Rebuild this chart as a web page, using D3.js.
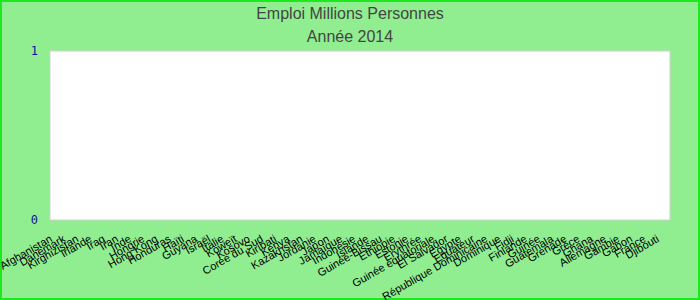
<!DOCTYPE html>
<html>
<head>
<meta charset="utf-8">
<script src="https://cdn.jsdelivr.net/npm/d3@7"></script>
<style>
  html, body { margin: 0; padding: 0; background: #fff; }
  svg { display: block; }
</style>
</head>
<body>
<div id="chart"></div>
<script>
// titres
const title = 'Emploi Millions Personnes';
const subtitle = 'Année 2014';

// pays (ordre du graphique)
const countries = [
  'Afghanistan', 'Danemark', 'Kirghizistan', 'Irlande', 'Iraq', 'Iran', 'Inde', 'Hongrie',
  'Hong Kong', 'Honduras', 'Haïti', 'Guyana', 'Israël', 'Italie', 'Koweït', 'Kosovo',
  'Corée du Sud', 'Kiribati', 'Kenya', 'Kazakhstan', 'Jordanie', 'Japon', 'Jamaïque',
  'Indonésie', 'Islande', 'Guinée-Bissau', 'Ethiopie', 'Estonie', 'Erythrée',
  'Guinée équatoriale', 'El Salvador', 'Egypte', 'Equateur', 'République Dominicaine',
  'Dominique', 'Fidji', 'Finlande', 'Guinée', 'Guatemala', 'Grenade', 'Grèce', 'Ghana',
  'Allemagne', 'Gambie', 'Gabon', 'France', 'Djibouti'
];

// valeurs (aucune donnée affichée : tout à 0)
const values = [
  0, 0, 0, 0, 0, 0, 0, 0, 0, 0, 0, 0, 0, 0, 0, 0,
  0, 0, 0, 0, 0, 0, 0, 0, 0, 0, 0, 0, 0, 0, 0, 0,
  0, 0, 0, 0, 0, 0, 0, 0, 0, 0, 0, 0, 0, 0, 0
];

// graduations de l'axe y
const yTicks = [0, 1];

const width = 700;
const height = 300;
const margin = { top: 51, right: 30, bottom: 80, left: 50 }; // zone blanche 50..670 x 51..220

const data = countries.map((name, i) => ({ name: name, value: values[i] }));

const svg = d3
  .select('#chart')
  .append('svg')
  .attr('width', width)
  .attr('height', height)
  .attr('viewBox', '0 0 ' + width + ' ' + height);

// fond vert + bordure
svg
  .append('rect')
  .attr('x', 1)
  .attr('y', 1)
  .attr('width', width - 2)
  .attr('height', height - 2)
  .attr('fill', '#90ee90')
  .attr('stroke', '#1ee81e')
  .attr('stroke-width', 2);

const x = d3
  .scaleBand()
  .domain(countries)
  .range([margin.left, width - margin.right]);

const y = d3
  .scaleLinear()
  .domain([0, 1])
  .range([height - margin.bottom, margin.top]);

// zone du graphique
svg
  .append('rect')
  .attr('x', margin.left)
  .attr('y', margin.top)
  .attr('width', width - margin.left - margin.right)
  .attr('height', height - margin.top - margin.bottom)
  .attr('fill', '#fff')
  .attr('stroke', '#d0d0d0')
  .attr('stroke-width', 1);

// titres
svg
  .append('text')
  .attr('x', width / 2)
  .attr('y', 19)
  .attr('text-anchor', 'middle')
  .attr('font-family', 'Liberation Sans, Arial, sans-serif')
  .attr('font-size', '16px')
  .attr('fill', '#444')
  .text(title);

svg
  .append('text')
  .attr('x', width / 2)
  .attr('y', 42)
  .attr('text-anchor', 'middle')
  .attr('font-family', 'Liberation Sans, Arial, sans-serif')
  .attr('font-size', '16px')
  .attr('fill', '#444')
  .text(subtitle);

// axe y
const yAxis = (g) =>
  g
    .attr('transform', `translate(${margin.left - 9}, 0)`)
    .call(d3.axisLeft(y).tickValues(yTicks).tickFormat(d3.format('d')).tickSize(0))
    .call((g) => g.select('.domain').remove())
    .call((g) =>
      g
        .selectAll('text')
        .attr('fill', '#1010a0')
        .attr('font-family', 'DejaVu Sans Mono, monospace')
        .attr('font-size', '12px')
    );

svg.append('g').call(yAxis);

// axe x : libellés inclinés
const xAxis = (g) =>
  g
    .attr('transform', `translate(0, ${height - margin.bottom})`)
    .call(d3.axisBottom(x).tickSize(0).tickSizeOuter(0))
    .call((g) => g.select('.domain').remove())
    .call((g) =>
      g
        .selectAll('.tick')
        .attr('transform', (d) => `translate(${x(d) + 3}, 0)`)
    )
    .call((g) =>
      g
        .selectAll('text')
        .attr('x', 0)
        .attr('y', 0)
        .attr('dy', 0)
        .attr('transform', 'translate(0, 21) rotate(-30)')
        .attr('text-anchor', 'end')
        .attr('fill', '#000')
        .attr('font-family', 'Liberation Sans, Arial, sans-serif')
        .attr('font-size', '11px')
    );

svg.append('g').call(xAxis);

// barres (valeurs nulles)
svg
  .append('g')
  .selectAll('rect')
  .data(data)
  .enter()
  .append('rect')
  .attr('x', (d) => x(d.name) + 2)
  .attr('y', (d) => y(d.value))
  .attr('width', x.bandwidth() - 4)
  .attr('height', (d) => y(0) - y(d.value))
  .attr('fill', '#4682b4');
</script>
</body>
</html>
